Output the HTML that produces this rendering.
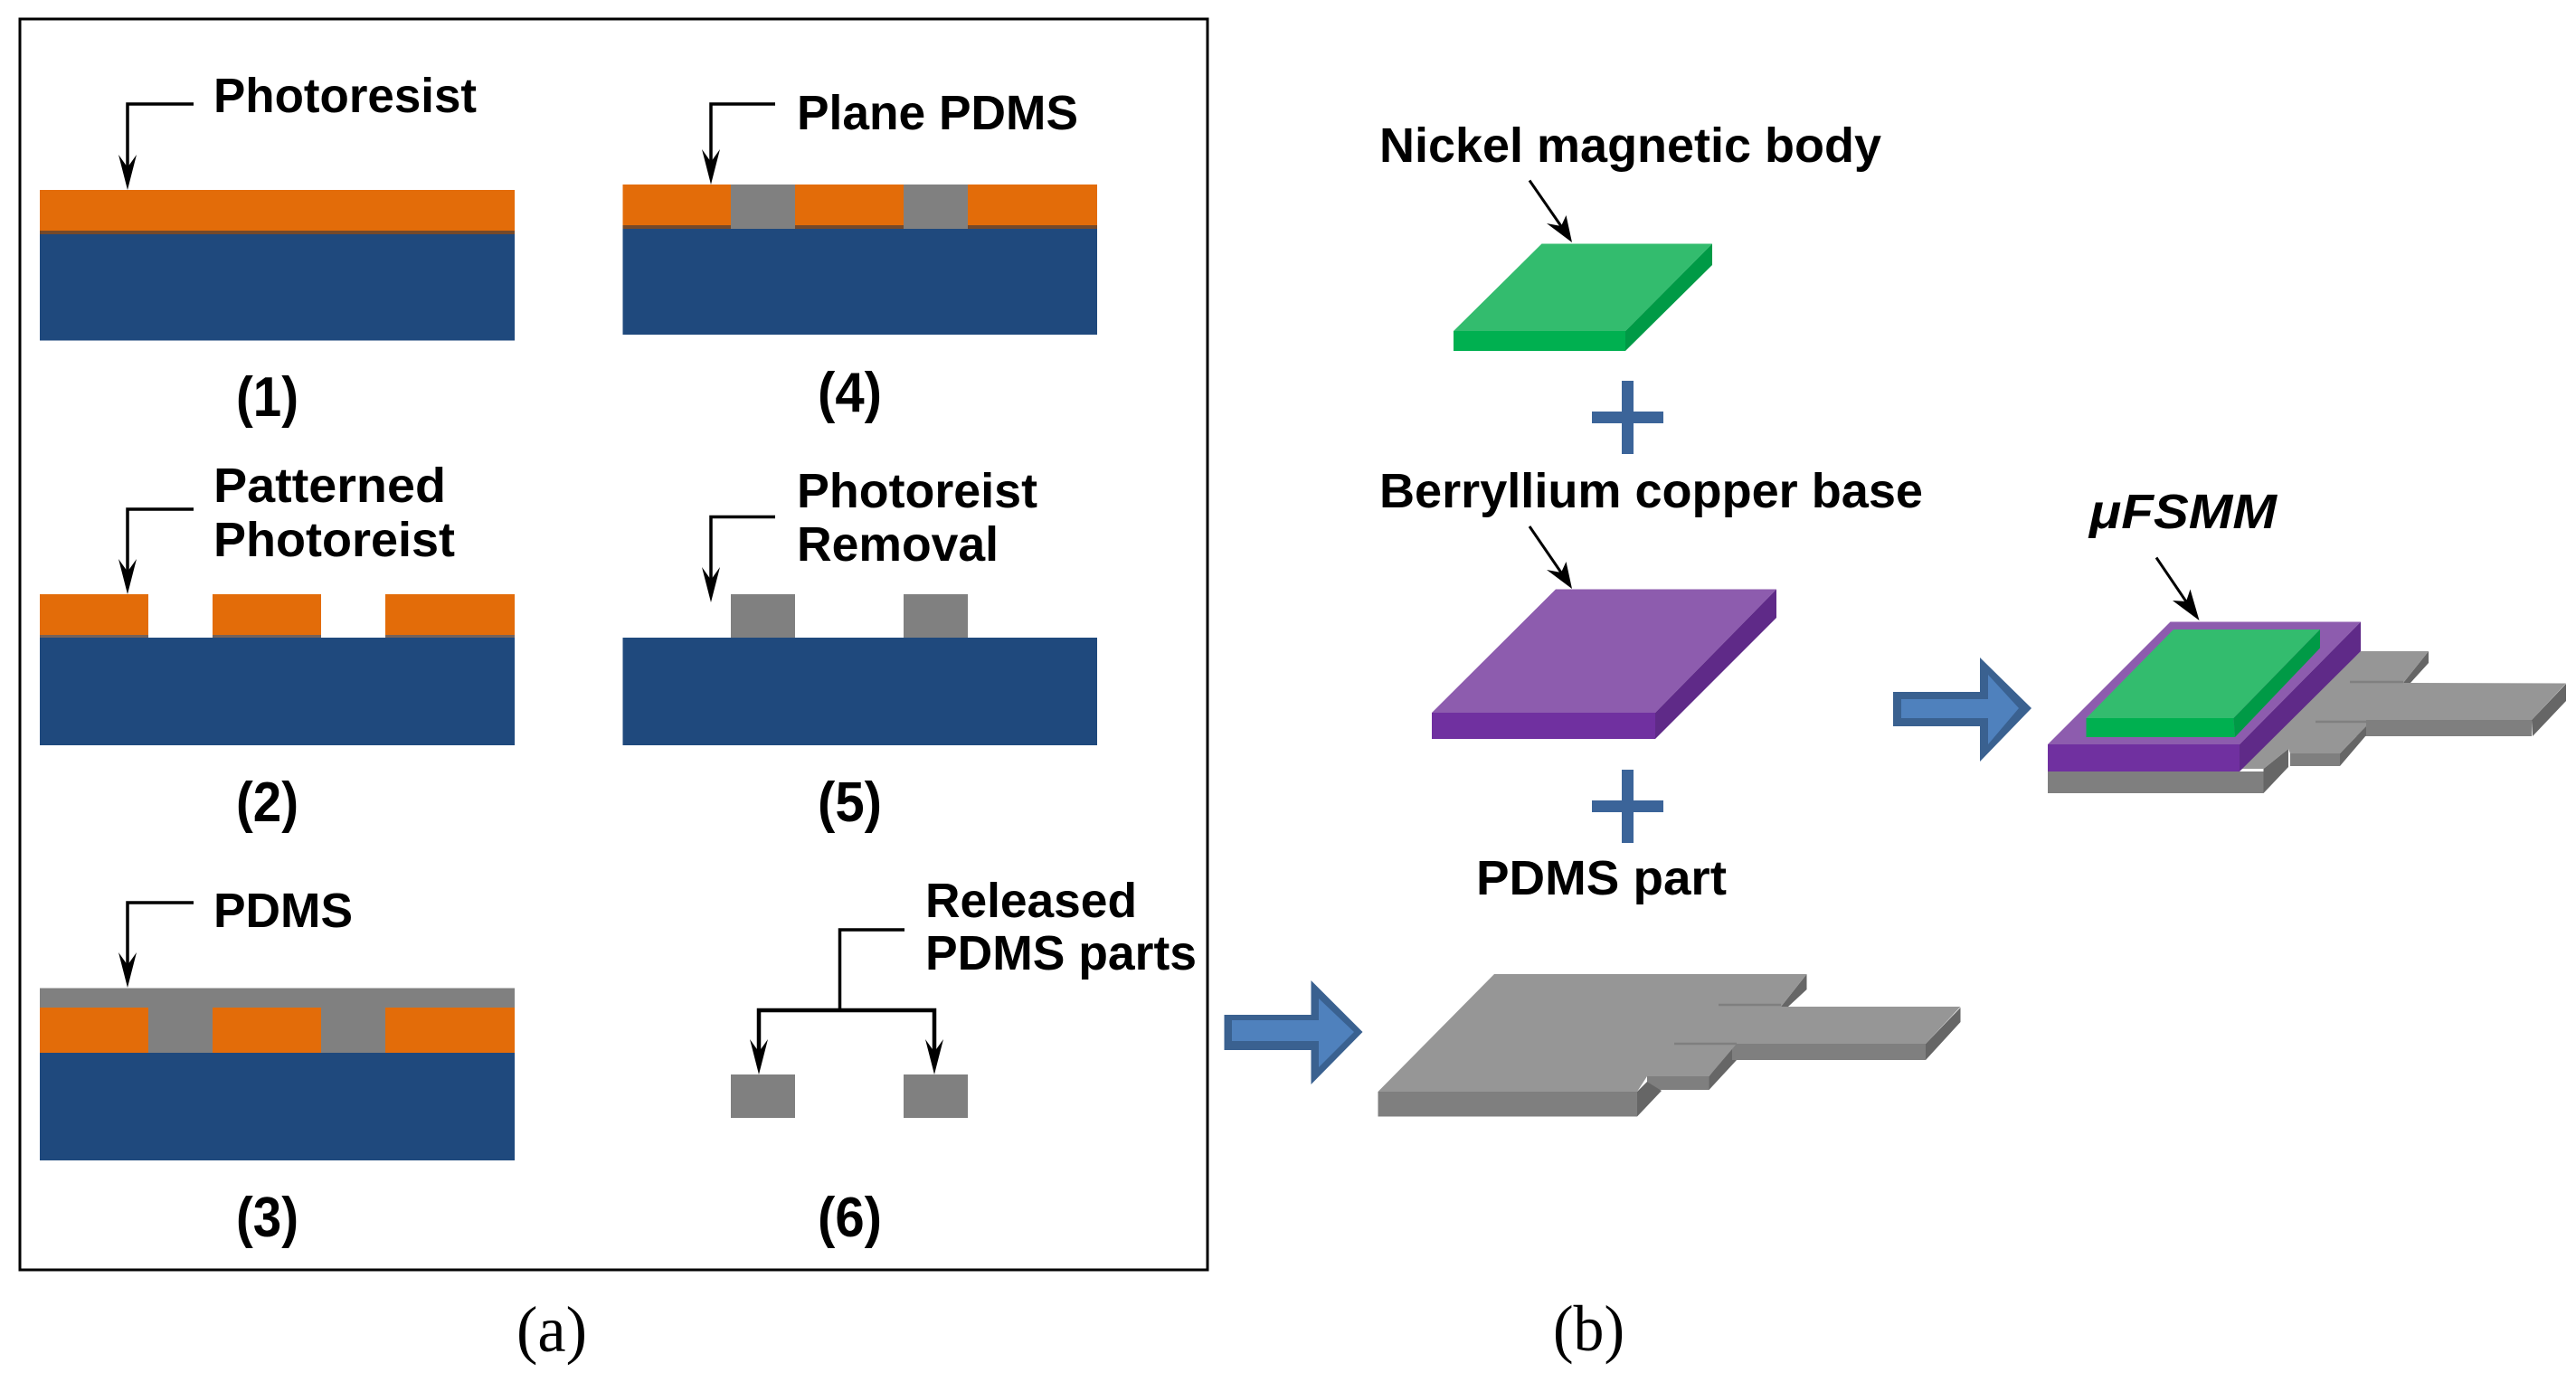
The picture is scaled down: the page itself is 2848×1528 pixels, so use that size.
<!DOCTYPE html>
<html>
<head>
<meta charset="utf-8">
<style>
html,body{margin:0;padding:0;background:#fff;width:2848px;height:1528px;overflow:hidden}
svg{display:block}
text{font-family:"Liberation Sans",sans-serif;font-weight:bold;fill:#000}
.s{font-family:"Liberation Serif",serif;font-weight:normal;font-size:72px}
.l{fill:none;stroke:#000;stroke-width:3.5}
</style>
</head>
<body>
<svg width="2848" height="1528" viewBox="0 0 2848 1528" xmlns="http://www.w3.org/2000/svg">
<rect width="2848" height="1528" fill="#fff"/>
<rect x="22" y="21" width="1313" height="1383" fill="#fff" stroke="#000" stroke-width="3"/>

<!-- Panel 1 -->
<rect x="44" y="210" width="525" height="48" fill="#e36c09"/>
<rect x="44" y="255" width="525" height="4" fill="#75492a"/>
<rect x="44" y="259" width="525" height="117.5" fill="#1f497d"/>

<!-- Panel 4 -->
<rect x="688.5" y="204" width="524.5" height="48" fill="#e36c09"/>
<rect x="688.5" y="249" width="524.5" height="4" fill="#75492a"/>
<rect x="808" y="204" width="71" height="49" fill="#808080"/>
<rect x="999" y="204" width="71" height="49" fill="#808080"/>
<rect x="688.5" y="253" width="524.5" height="117" fill="#1f497d"/>

<!-- Panel 2 -->
<rect x="44" y="657" width="120" height="48" fill="#e36c09"/>
<rect x="235" y="657" width="120" height="48" fill="#e36c09"/>
<rect x="426" y="657" width="143" height="48" fill="#e36c09"/>
<rect x="44" y="702" width="120" height="3" fill="#75625a"/>
<rect x="235" y="702" width="120" height="3" fill="#75625a"/>
<rect x="426" y="702" width="143" height="3" fill="#75625a"/>
<rect x="44" y="705" width="525" height="119" fill="#1f497d"/>

<!-- Panel 5 -->
<rect x="808" y="657" width="71" height="48" fill="#808080"/>
<rect x="999" y="657" width="71" height="48" fill="#808080"/>
<rect x="688.5" y="705" width="524.5" height="119" fill="#1f497d"/>

<!-- Panel 3 -->
<rect x="44" y="1092.5" width="525" height="72" fill="#808080"/>
<rect x="44" y="1114" width="120" height="50" fill="#e36c09"/>
<rect x="235" y="1114" width="120" height="50" fill="#e36c09"/>
<rect x="426" y="1114" width="143" height="50" fill="#e36c09"/>
<rect x="44" y="1164" width="525" height="119" fill="#1f497d"/>

<!-- Panel 6 -->
<rect x="808" y="1188" width="71" height="48" fill="#808080"/>
<rect x="999" y="1188" width="71" height="48" fill="#808080"/>

<!-- Leader lines -->
<path class="l" d="M214 115H141V190"/>
<path d="M141 210L131 171L141 185L151 171Z"/>
<path class="l" d="M857 115H786V185"/>
<path d="M786 204L776 165L786 179L796 165Z"/>
<path class="l" d="M214 563H141V637"/>
<path d="M141 657L131 618L141 632L151 618Z"/>
<path class="l" d="M857 571.5H786V645"/>
<path d="M786 666L776 627L786 641L796 627Z"/>
<path class="l" d="M214 998H141V1072"/>
<path d="M141 1092L131 1053L141 1067L151 1053Z"/>
<path class="l" d="M1000 1028H928.5V1117"/>
<path class="l" style="stroke-width:4.5" d="M839 1168V1117H1033V1168"/>
<path d="M839 1188L829 1149L839 1163L849 1149Z"/>
<path d="M1033 1188L1023 1149L1033 1163L1043 1149Z"/>

<!-- Panel text -->
<text x="236" y="124" font-size="54" textLength="291" lengthAdjust="spacingAndGlyphs">Photoresist</text>
<text x="881" y="143" font-size="54" textLength="311" lengthAdjust="spacingAndGlyphs">Plane PDMS</text>
<text x="261" y="460" font-size="62" textLength="69" lengthAdjust="spacingAndGlyphs">(1)</text>
<text x="904" y="455" font-size="62" textLength="71" lengthAdjust="spacingAndGlyphs">(4)</text>
<text x="236" y="555" font-size="54" textLength="257" lengthAdjust="spacingAndGlyphs">Patterned</text>
<text x="236" y="615" font-size="54" textLength="267" lengthAdjust="spacingAndGlyphs">Photoreist</text>
<text x="881" y="561" font-size="54" textLength="266" lengthAdjust="spacingAndGlyphs">Photoreist</text>
<text x="881" y="620" font-size="54" textLength="223" lengthAdjust="spacingAndGlyphs">Removal</text>
<text x="261" y="908" font-size="62" textLength="69" lengthAdjust="spacingAndGlyphs">(2)</text>
<text x="904" y="908" font-size="62" textLength="71" lengthAdjust="spacingAndGlyphs">(5)</text>
<text x="236" y="1025" font-size="54" textLength="154" lengthAdjust="spacingAndGlyphs">PDMS</text>
<text x="1023" y="1014" font-size="54" textLength="234" lengthAdjust="spacingAndGlyphs">Released</text>
<text x="1023" y="1072" font-size="54" textLength="300" lengthAdjust="spacingAndGlyphs">PDMS parts</text>
<text x="261" y="1367" font-size="62" textLength="69" lengthAdjust="spacingAndGlyphs">(3)</text>
<text x="904" y="1367" font-size="62" textLength="71" lengthAdjust="spacingAndGlyphs">(6)</text>
<text class="s" x="571" y="1494" textLength="78" lengthAdjust="spacingAndGlyphs">(a)</text>
<text class="s" x="1717" y="1493" textLength="79" lengthAdjust="spacingAndGlyphs">(b)</text>

<!-- Right text -->
<text x="1525" y="179" font-size="54" textLength="555" lengthAdjust="spacingAndGlyphs">Nickel magnetic  body</text>
<text x="1525" y="561" font-size="54" textLength="601" lengthAdjust="spacingAndGlyphs">Berryllium copper  base</text>
<text x="1632" y="989" font-size="54" textLength="277" lengthAdjust="spacingAndGlyphs">PDMS part</text>
<text x="2310" y="584" font-size="54" font-style="italic" textLength="207" lengthAdjust="spacingAndGlyphs">μFSMM</text>

<!-- Green body -->
<polygon points="1704.5,269.5 1893,269.5 1797,366 1607,366" fill="#33bc6e"/>
<polygon points="1607,366 1797,366 1797,388 1607,388" fill="#00b050"/>
<polygon points="1797,366 1893,269.5 1893,293 1797,388" fill="#009a46"/>
<path class="l" style="stroke-width:3" d="M1691 199.5L1728 253"/>
<path d="M1738 268L1731.5 238L1726 250L1710 247Z"/>

<!-- Plus 1 -->
<rect x="1793" y="421" width="13" height="81" fill="#3b6499"/>
<rect x="1760" y="455" width="79" height="13" fill="#3b6499"/>

<!-- Purple base -->
<polygon points="1720,651.5 1964,651.5 1830,788 1583,788" fill="#8d5cae"/>
<polygon points="1583,788 1830,788 1830,817 1583,817" fill="#7030a0"/>
<polygon points="1830,788 1964,651.5 1964,683 1830,817" fill="#5f2a88"/>
<path class="l" style="stroke-width:3" d="M1691 582L1728 636"/>
<path d="M1738 651L1731.5 621L1726 633L1710 630Z"/>

<!-- Plus 2 -->
<rect x="1793" y="851" width="13" height="81" fill="#3b6499"/>
<rect x="1760" y="885" width="79" height="13" fill="#3b6499"/>

<!-- Arrow b -->
<polygon points="2093,765 2189,765 2189,727 2246,783 2189,842 2189,803 2093,803" fill="#3a6190"/>
<polygon points="2102,773 2198,773 2198,746 2232,783 2198,823 2198,794 2102,794" fill="#4f81bd"/>

<!-- Device: grey parts -->
<polygon points="2685,720 2685,733 2665,755 2657,755" fill="#666"/>
<polygon points="2560,796 2799,796 2799,814 2560,814" fill="#7f7f7f"/>
<polygon points="2799,796 2837,756 2837,775 2800,814" fill="#666"/>
<polygon points="2532,833 2587,833 2587,847 2532,847" fill="#7f7f7f"/>
<polygon points="2587,833 2616,803 2616,813 2587,847" fill="#666"/>
<polygon points="2264,853 2502.5,853 2502.5,877 2264,877" fill="#7f7f7f"/>
<polygon points="2502.5,850 2530,828 2530,848 2502.5,877" fill="#666"/>
<polygon points="2476,848 2610,720 2685,720 2657,755 2837,755.5 2799,796 2616,796 2616,803 2587,833 2532,833 2530,828 2502.5,850 2476,850" fill="#969696"/>
<path d="M2598 754H2657M2560 798H2616" stroke="#808080" stroke-width="2.5" fill="none"/>

<!-- Device: purple -->
<polygon points="2399.5,687.5 2610,687.5 2476,823 2264,823" fill="#8d5cae"/>
<polygon points="2264,823 2476,823 2476,853 2264,853" fill="#7030a0"/>
<polygon points="2476,823 2610,687.5 2610,720 2476,853" fill="#5f2a88"/>

<!-- Device: green -->
<polygon points="2403,696 2565,696 2469.5,794 2306.5,794" fill="#33bc6e"/>
<polygon points="2306.5,794 2469.5,794 2471,815 2306.5,815" fill="#00b050"/>
<polygon points="2469.5,794 2565,696 2565,716.5 2471,815" fill="#009a46"/>

<path class="l" style="stroke-width:3" d="M2384 616.5L2423 674"/>
<path d="M2431.5 686L2421.5 651.5L2417 665L2402 664Z"/>

<!-- Arrow a -->
<polygon points="1353.5,1122 1449.5,1122 1449.5,1084 1506.5,1141 1449.5,1199 1449.5,1161 1353.5,1161" fill="#3a6190"/>
<polygon points="1362,1128 1458,1128 1458,1104 1497,1141 1458,1180 1458,1151 1362,1151" fill="#4f81bd"/>

<!-- PDMS part -->
<polygon points="1821,1190 1889.5,1190 1889.5,1205 1821,1205" fill="#7f7f7f"/>
<polygon points="1889.5,1190 1920,1150 1920,1172 1889.5,1205" fill="#666"/>
<polygon points="1915,1154 2129,1154 2129,1172 1915,1172" fill="#7f7f7f"/>
<polygon points="2129,1154 2167.5,1114 2167.5,1130 2129,1172" fill="#666"/>
<polygon points="1969,1113 1997.5,1077 1997.5,1094 1977,1113" fill="#666"/>
<polygon points="1810,1207 1821,1196 1837,1206 1810,1234.5" fill="#666"/>
<polygon points="1523.5,1207 1810,1207 1810,1234.5 1523.5,1234.5" fill="#7f7f7f"/>
<polygon points="1652,1077 1997.5,1077 1969,1113 2167.5,1113 2129,1154 1920,1154 1889.5,1190 1821,1190 1810,1207 1523.5,1207" fill="#969696"/>
<path d="M1900 1111H1969" stroke="#7f7f7f" stroke-width="2.5" fill="none"/>
<path d="M1851 1154H1920" stroke="#7f7f7f" stroke-width="2.5" fill="none"/>
</svg>
</body>
</html>
